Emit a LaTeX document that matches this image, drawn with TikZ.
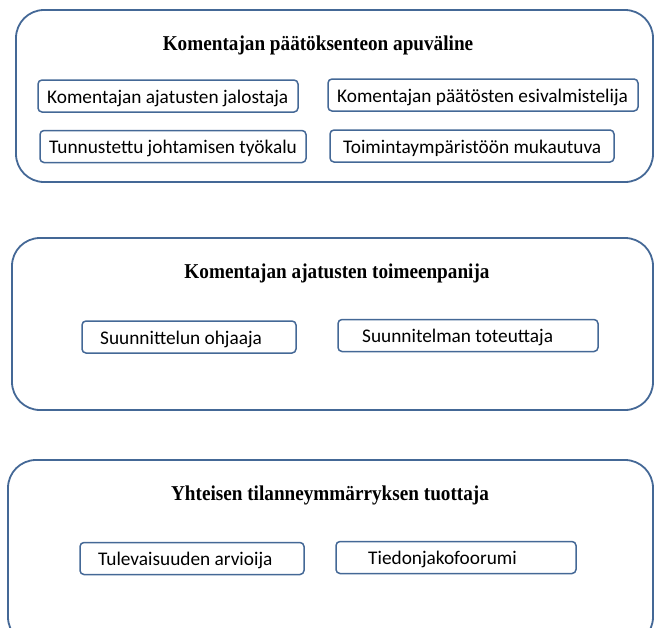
\documentclass[tikz,border=0pt]{standalone}
\usepackage{fontspec}
\setmainfont{Liberation Serif}
\newfontfamily\calfnt{Carlito}
\definecolor{edge}{RGB}{68,104,150}
\newcommand{\tallttl}[1]{\scalebox{1}[1.1]{#1}}
\begin{document}
\begin{tikzpicture}[x=1pt,y=-1pt,
  outer/.style={draw=edge,line width=1.8pt,rounded corners=28pt},
  inbox/.style={draw=edge,line width=1.5pt,rounded corners=4pt,minimum height=32pt,inner sep=0pt},
  ttl/.style={font=\bfseries\fontsize{19.2}{21}\selectfont,inner sep=0pt},
  lbl/.style={font=\calfnt\fontsize{19.3}{21}\selectfont,anchor=west,inner sep=0pt,text height=14pt,text depth=0pt}]
\useasboundingbox (0,0) rectangle (655,627);
\clip (0,0) rectangle (655,627);
% group 1
\draw[outer] (16,10) rectangle (653,182);
\node[ttl] (t1) at (318,45) {\tallttl{Komentajan päätöksenteon apuväline}};
\node[inbox,minimum width=260pt] (a) at (168,96) {};
\node[lbl] (la) at (47,96) {Komentajan ajatusten jalostaja};
\node[inbox,minimum width=310pt] (b) at (483,95) {};
\node[lbl] (lb) at (337,95) {Komentajan päätösten esivalmistelija};
\node[inbox,minimum width=266pt] (c) at (173,146.5) {};
\node[lbl] (lc) at (49,146.5) {Tunnustettu johtamisen työkalu};
\node[inbox,minimum width=284pt] (d) at (472,146) {};
\node[lbl] (ld) at (343,146) {Toimintaympäristöön mukautuva};
% group 2
\draw[outer] (12,238) rectangle (653,410);
\node[ttl] (t2) at (337,273) {\tallttl{Komentajan ajatusten toimeenpanija}};
\node[inbox,minimum width=214pt] (e) at (189,337) {};
\node[lbl] (le) at (100,337) {Suunnittelun ohjaaja};
\node[inbox,minimum width=260pt] (f) at (468,335.5) {};
\node[lbl] (lf) at (362,335) {Suunnitelman toteuttaja};
% group 3
\draw[outer] (8,460) rectangle (653,645);
\node[ttl] (t3) at (330,495) {\tallttl{Yhteisen tilanneymmärryksen tuottaja}};
\node[inbox,minimum width=224pt] (g) at (192,558.5) {};
\node[lbl] (lg) at (98,558.5) {Tulevaisuuden arvioija};
\node[inbox,minimum width=240pt] (h) at (456,557.5) {};
\node[lbl] (lh) at (368,557) {Tiedonjakofoorumi};
\end{tikzpicture}
\end{document}
